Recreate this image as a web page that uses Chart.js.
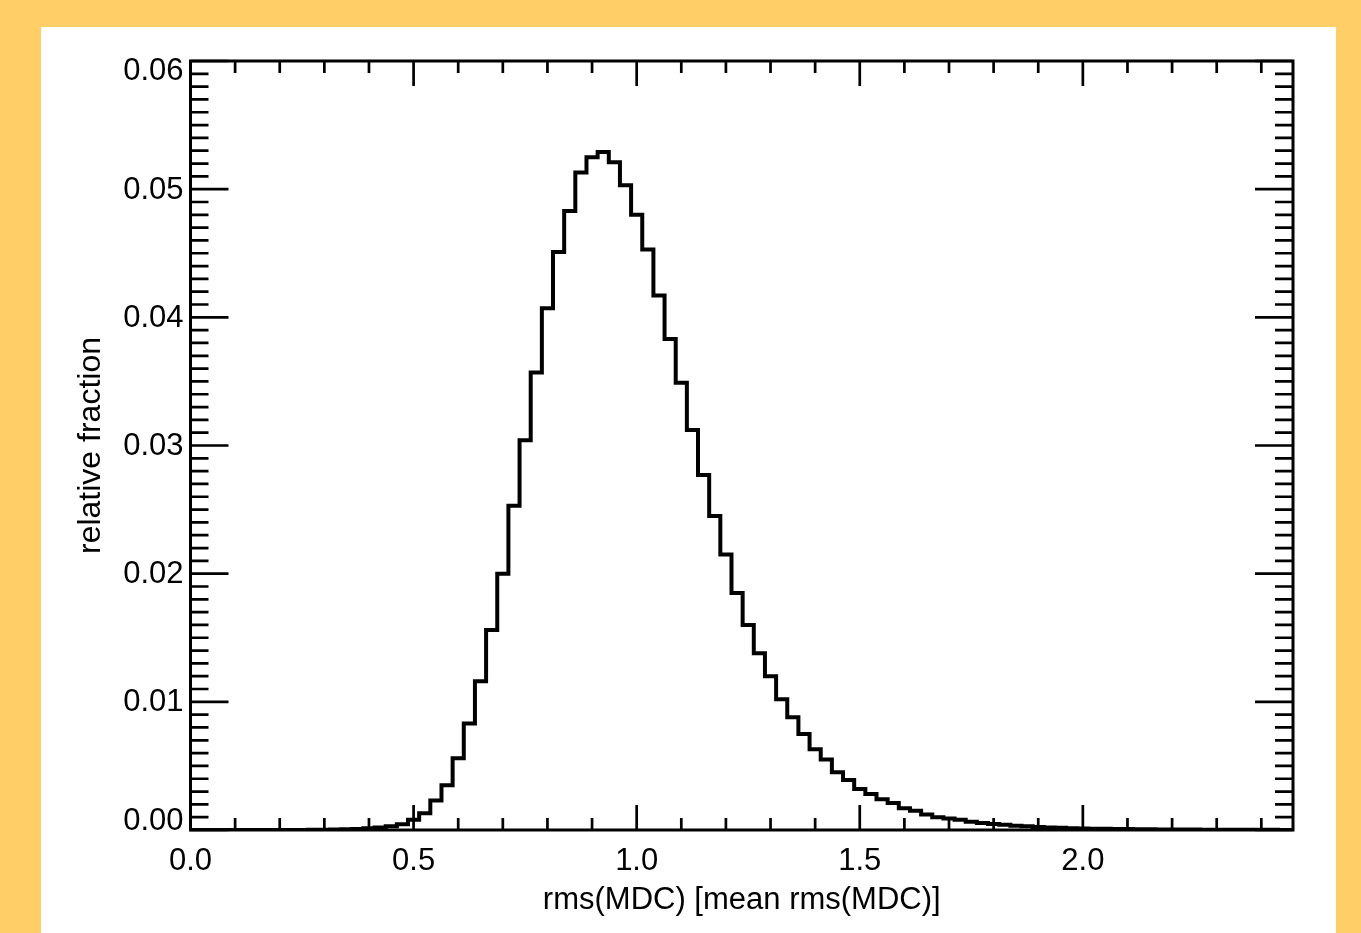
<!DOCTYPE html>
<html>
<head>
<meta charset="utf-8">
<script src="https://cdn.jsdelivr.net/npm/chart.js@4.4.1/dist/chart.umd.min.js"></script>
<style>
    html, body { margin: 0; padding: 0; background: #FFCE67; }
    canvas { display: block; }
</style>
</head>
<body>
<canvas id="grafico" width="1361" height="933"></canvas>
<script>
// Centros de los bins del histograma (ancho 0.025)
const centrosBins = [
    0.000, 0.025, 0.050, 0.075, 0.100, 0.125, 0.150, 0.175, 0.200, 0.225,
    0.250, 0.275, 0.300, 0.325, 0.350, 0.375, 0.400, 0.425, 0.450, 0.475,
    0.500, 0.525, 0.550, 0.575, 0.600, 0.625, 0.650, 0.675, 0.700, 0.725,
    0.750, 0.775, 0.800, 0.825, 0.850, 0.875, 0.900, 0.925, 0.950, 0.975,
    1.000, 1.025, 1.050, 1.075, 1.100, 1.125, 1.150, 1.175, 1.200, 1.225,
    1.250, 1.275, 1.300, 1.325, 1.350, 1.375, 1.400, 1.425, 1.450, 1.475,
    1.500, 1.525, 1.550, 1.575, 1.600, 1.625, 1.650, 1.675, 1.700, 1.725,
    1.750, 1.775, 1.800, 1.825, 1.850, 1.875, 1.900, 1.925, 1.950, 1.975,
    2.000, 2.025, 2.050, 2.075, 2.100, 2.125, 2.150, 2.175, 2.200, 2.225,
    2.250, 2.275, 2.300, 2.325, 2.350, 2.375, 2.400, 2.425, 2.450, 2.475
];

// Fracción relativa de cada bin
const fraccionRelativa = [
    0, 0, 0, 0, 0, 0, 0, 0, 0, 0,
    0, 0.00001, 0.00002, 0.00003, 0.00005, 0.00008, 0.00013, 0.0002, 0.0003, 0.00045,
    0.0008, 0.0013, 0.0023, 0.0035, 0.0056, 0.0083, 0.0116, 0.0156, 0.0200, 0.0253,
    0.0304, 0.0357, 0.0407, 0.0451, 0.0483, 0.0513, 0.0525, 0.0529, 0.0521, 0.0503,
    0.0480, 0.0453, 0.0417, 0.0383, 0.0349, 0.0312, 0.0277, 0.0245, 0.0215, 0.0185,
    0.0160, 0.0138, 0.0120, 0.0102, 0.0088, 0.0075, 0.0063, 0.0055, 0.0045, 0.0039,
    0.0032, 0.0028, 0.0024, 0.0021, 0.0017, 0.0015, 0.0012, 0.0010, 0.0009, 0.0008,
    0.00065, 0.00055, 0.00047, 0.0004, 0.00034, 0.00029, 0.00024, 0.0002, 0.00017, 0.00014,
    0.00012, 0.0001, 0.00009, 0.00008, 0.00007, 0.00006, 0.00005, 0.00004, 0.00004, 0.00003,
    0.00003, 0.00002, 0.00002, 0.00002, 0.00001, 0.00001, 0.00001, 0.00001, 0, 0
];

// Marcas de los ejes
const ticksX = [0.0, 0.5, 1.0, 1.5, 2.0];
const ticksY = [0.00, 0.01, 0.02, 0.03, 0.04, 0.05, 0.06];
const menorX = 0.1;
const menorY = 0.001;

const fuente = { family: '"Liberation Sans", Arial, Helvetica, sans-serif', size: 31 };
const fuenteTituloY = { family: '"Liberation Sans", Arial, Helvetica, sans-serif', size: 32 };

// Fondo blanco del panel
const fondoPanel = {
    id: 'fondoPanel',
    beforeDraw(chart) {
        const ctx = chart.ctx;
        ctx.save();
        ctx.fillStyle = '#FFCE67';
        ctx.fillRect(0, 0, chart.width, chart.height);
        ctx.fillStyle = '#ffffff';
        ctx.fillRect(41, 27, 1295, 906);
        ctx.restore();
    }
};

// Marco, marcas hacia dentro en los cuatro lados y etiquetas del eje Y
const marcoEjes = {
    id: 'marcoEjes',
    afterDraw(chart) {
        const ctx = chart.ctx;
        const { left, right, top, bottom } = chart.chartArea;
        const sx = chart.scales.x;
        const sy = chart.scales.y;
        ctx.save();
        ctx.strokeStyle = '#000';
        ctx.lineWidth = 2.7;
        ctx.lineCap = 'butt';

        // marcas X
        for (let i = 0; i * menorX <= sx.max + 1e-9; i++) {
            const v = i * menorX;
            const px = sx.getPixelForValue(v);
            const largo = (i % 5 === 0) ? 25 : 12;
            ctx.beginPath();
            ctx.moveTo(px, bottom);
            ctx.lineTo(px, bottom - largo);
            ctx.moveTo(px, top);
            ctx.lineTo(px, top + largo);
            ctx.stroke();
        }
        // marcas Y
        for (let i = 0; i * menorY <= sy.max + 1e-9; i++) {
            const v = i * menorY;
            const py = sy.getPixelForValue(v);
            const largo = (i % 10 === 0) ? 38 : 18;
            ctx.beginPath();
            ctx.moveTo(left, py);
            ctx.lineTo(left + largo, py);
            ctx.moveTo(right, py);
            ctx.lineTo(right - largo, py);
            ctx.stroke();
        }
        // marco
        ctx.lineWidth = 3;
        ctx.strokeRect(left, top, right - left, bottom - top);

        // etiquetas Y
        ctx.fillStyle = '#000';
        ctx.font = fuente.size + 'px ' + fuente.family;
        ctx.textAlign = 'right';
        ctx.textBaseline = 'middle';
        ticksY.forEach((v, i) => {
            let py = sy.getPixelForValue(v) + 1;
            if (i === 0) py -= 10;
            if (i === ticksY.length - 1) py += 9;
            ctx.fillText(v.toFixed(2), left - 7, py);
        });
        ctx.restore();
    }
};

const puntos = centrosBins.map((x, i) => ({ x: x, y: fraccionRelativa[i] }));

new Chart(document.getElementById('grafico'), {
    type: 'line',
    data: {
        datasets: [{
            data: puntos,
            borderColor: '#000',
            borderWidth: 4,
            pointRadius: 0,
            stepped: 'middle',
            fill: false
        }]
    },
    options: {
        responsive: false,
        animation: false,
        layout: { padding: { left: 60, top: 61, right: 68, bottom: 0 } },
        plugins: {
            legend: { display: false },
            tooltip: { enabled: false }
        },
        scales: {
            x: {
                type: 'linear',
                min: 0,
                max: 2.471,
                grid: { display: false, drawTicks: false },
                border: { display: false },
                afterBuildTicks: (escala) => { escala.ticks = ticksX.map(v => ({ value: v })); },
                ticks: {
                    font: fuente,
                    color: '#000',
                    padding: 13,
                    maxRotation: 0,
                    autoSkip: false,
                    callback: (v) => Number(v).toFixed(1)
                },
                title: {
                    display: true,
                    text: 'rms(MDC) [mean rms(MDC)]',
                    font: fuente,
                    color: '#000',
                    padding: { top: 0, bottom: 14 }
                },
                afterFit: (escala) => { escala.height = 103; }
            },
            y: {
                type: 'linear',
                min: 0,
                max: 0.06,
                grid: { display: false, drawTicks: false },
                border: { display: false },
                afterBuildTicks: (escala) => { escala.ticks = ticksY.map(v => ({ value: v })); },
                ticks: { display: false },
                title: {
                    display: true,
                    text: 'relative fraction',
                    font: fuenteTituloY,
                    color: '#000',
                    padding: { top: 12, bottom: 0 }
                },
                afterFit: (escala) => { escala.width = 130.5; }
            }
        }
    },
    plugins: [fondoPanel, marcoEjes]
});
</script>
</body>
</html>
